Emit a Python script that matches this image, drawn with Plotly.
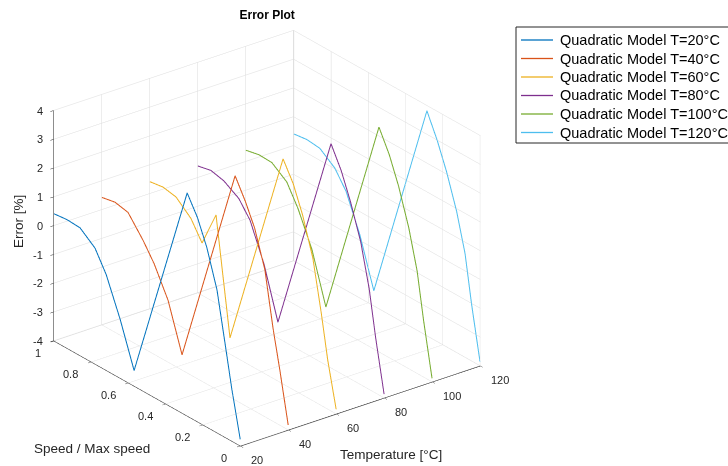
import plotly.graph_objects as go

temps = [20, 40, 60, 80, 100, 120]
speed = [1.00, 0.93, 0.86, 0.78, 0.72, 0.645, 0.57, 0.285, 0.23, 0.18, 0.125, 0.08, 0.045, 0.00]

err_t20 = [0.42, 0.47, 0.44, 0.03, -0.67, -1.95, -3.46, 3.75, 3.10, 2.25, 0.97, -0.80, -2.20, -3.77]
err_t40 = [0.43, 0.52, 0.42, -0.25, -0.85, -1.85, -3.47, 3.79, 3.10, 2.35, 1.10, -0.82, -2.08, -3.83]
err_t60 = [0.42, 0.49, 0.40, -0.05, -0.69, 0.56, -3.44, 3.82, 3.15, 2.25, 0.95, -0.78, -2.30, -3.84]
err_t80 = [0.41, 0.51, 0.40, 0.08, -0.45, -1.70, -3.45, 3.79, 3.05, 2.15, 0.95, -0.50, -2.09, -3.87]
err_t100 = [0.40, 0.50, 0.48, 0.10, -0.60, -1.75, -3.48, 3.81, 3.06, 2.15, 0.90, -0.44, -2.05, -3.88]
err_t120 = [0.41, 0.47, 0.42, 0.03, -0.55, -1.80, -3.47, 3.82, 3.00, 2.10, 0.90, -0.40, -2.03, -3.85]

errors = [err_t20, err_t40, err_t60, err_t80, err_t100, err_t120]
names = ["Quadratic Model T=%d°C" % t for t in temps]
colors = ["#0072BD", "#D95319", "#EDB120", "#7E2F8E", "#77AC30", "#4DBEEE"]

t_ticks = [20, 40, 60, 80, 100, 120]
t_ticklabels = ["20", "40", "60", "80", "100", "120"]
s_ticks = [0, 0.2, 0.4, 0.6, 0.8, 1]
s_ticklabels = ["0", "0.2", "0.4", "0.6", "0.8", "1"]
z_ticks = [-4, -3, -2, -1, 0, 1, 2, 3, 4]
z_ticklabels = ["-4", "-3", "-2", "-1", "0", "1", "2", "3", "4"]

FONT = "Liberation Sans, Arial, Helvetica, sans-serif"
TXT = "#262626"
GRID = "rgb(220,220,220)"
W, H = 728, 466

fig = go.Figure()
for t, e, n, c in zip(temps, errors, names, colors):
    fig.add_trace(go.Scatter3d(
        x=[t] * len(speed), y=speed, z=e, mode="lines",
        line=dict(color=c, width=2), name=n, showlegend=False))

axis_common = dict(
    showbackground=False, gridcolor=GRID, gridwidth=1, zeroline=False,
    showline=True, linecolor=TXT, linewidth=1.2,
    ticks="outside", ticklen=4, tickcolor=TXT, showticklabels=False,
    showspikes=False, title=dict(text=""),
)

tickfont = dict(family=FONT, size=11, color=TXT)
scene_ann = []
t_min, t_max = t_ticks[0], t_ticks[-1]
s_min, s_max = s_ticks[0], s_ticks[-1]
z_min, z_max = z_ticks[0], z_ticks[-1]
for v, lab in zip(z_ticks, z_ticklabels):
    scene_ann.append(dict(x=t_min, y=s_max, z=v, text=lab, showarrow=False,
                          xanchor="right", yanchor="middle", xshift=-9, yshift=0, font=tickfont))
for v, lab in zip(s_ticks, s_ticklabels):
    scene_ann.append(dict(x=t_min, y=v, z=z_min, text=lab, showarrow=False,
                          xanchor="right", yanchor="middle", xshift=-11, yshift=-12, font=tickfont))
for v, lab in zip(t_ticks, t_ticklabels):
    scene_ann.append(dict(x=v, y=s_min, z=z_min, text=lab, showarrow=False,
                          xanchor="left", yanchor="middle", xshift=9, yshift=-14, font=tickfont))

# legend drawn as a framed box of entries
leg_left, leg_top, leg_bottom, leg_row0, leg_dy = 516, 27, 143, 40, 18.5
shapes = [dict(type="rect", xref="paper", yref="paper", x0=leg_left / W, x1=1.05,
               y0=1 - leg_bottom / H, y1=1 - leg_top / H,
               line=dict(color="#262626", width=1), fillcolor="white", layer="above")]
annotations = []
for i, (n, c) in enumerate(zip(names, colors)):
    yy = 1 - (leg_row0 + i * leg_dy) / H
    shapes.append(dict(type="line", xref="paper", yref="paper", x0=(leg_left + 5) / W,
                       x1=(leg_left + 37) / W, y0=yy, y1=yy, line=dict(color=c, width=1.3),
                       layer="above"))
    annotations.append(dict(text=n, x=(leg_left + 42) / W, y=yy, xref="paper", yref="paper",
                            xanchor="left", yanchor="middle", showarrow=False,
                            font=dict(family=FONT, size=14.5, color="black")))

annotations += [
    dict(text="Error [%]", x=18 / W, y=1 - 222 / H, xref="paper", yref="paper",
         xanchor="center", yanchor="middle",
         showarrow=False, textangle=-90, font=dict(family=FONT, size=13.5, color=TXT)),
    dict(text="Speed / Max speed", x=92 / W, y=1 - 448 / H, xref="paper", yref="paper",
         xanchor="center", yanchor="middle",
         showarrow=False, font=dict(family=FONT, size=13.5, color=TXT)),
    dict(text="Temperature [°C]", x=391 / W, y=1 - 454 / H, xref="paper", yref="paper",
         xanchor="center", yanchor="middle",
         showarrow=False, font=dict(family=FONT, size=13.5, color=TXT)),
]

# tiny padding keeps the T=20 / T=120 lines clear of the WebGL clip planes
pad_t, pad_s = 0.05, 0.002

fig.update_layout(
    width=W, height=H,
    paper_bgcolor="white", plot_bgcolor="white",
    margin=dict(l=0, r=0, t=0, b=0, autoexpand=False),
    font=dict(family=FONT, color=TXT),
    title=dict(text="<b>Error Plot</b>", x=0.367, xanchor="center",
               y=1 - 15 / H, yanchor="middle", font=dict(family=FONT, size=12, color="black")),
    scene=dict(
        domain=dict(x=[0, 0.7335], y=[0, 1.0]),
        xaxis=dict(axis_common, range=[t_min - pad_t, t_max + pad_t], tickvals=t_ticks),
        yaxis=dict(axis_common, range=[s_min - pad_s, s_max + pad_s], tickvals=s_ticks),
        zaxis=dict(axis_common, range=[z_min, z_max], tickvals=z_ticks),
        aspectmode="manual", aspectratio=dict(x=1.30, y=1.315, z=1.097),
        camera=dict(projection=dict(type="orthographic"),
                    eye=dict(x=-1.525, y=-1.98, z=1.229),
                    up=dict(x=0, y=0, z=1), center=dict(x=0, y=0, z=0.025)),
        annotations=scene_ann,
    ),
    showlegend=False,
    shapes=shapes,
    annotations=annotations,
)

fig.write_html("out.html", config={"displayModeBar": False},
               post_script="document.body.style.margin='0';document.body.style.overflow='hidden';")
